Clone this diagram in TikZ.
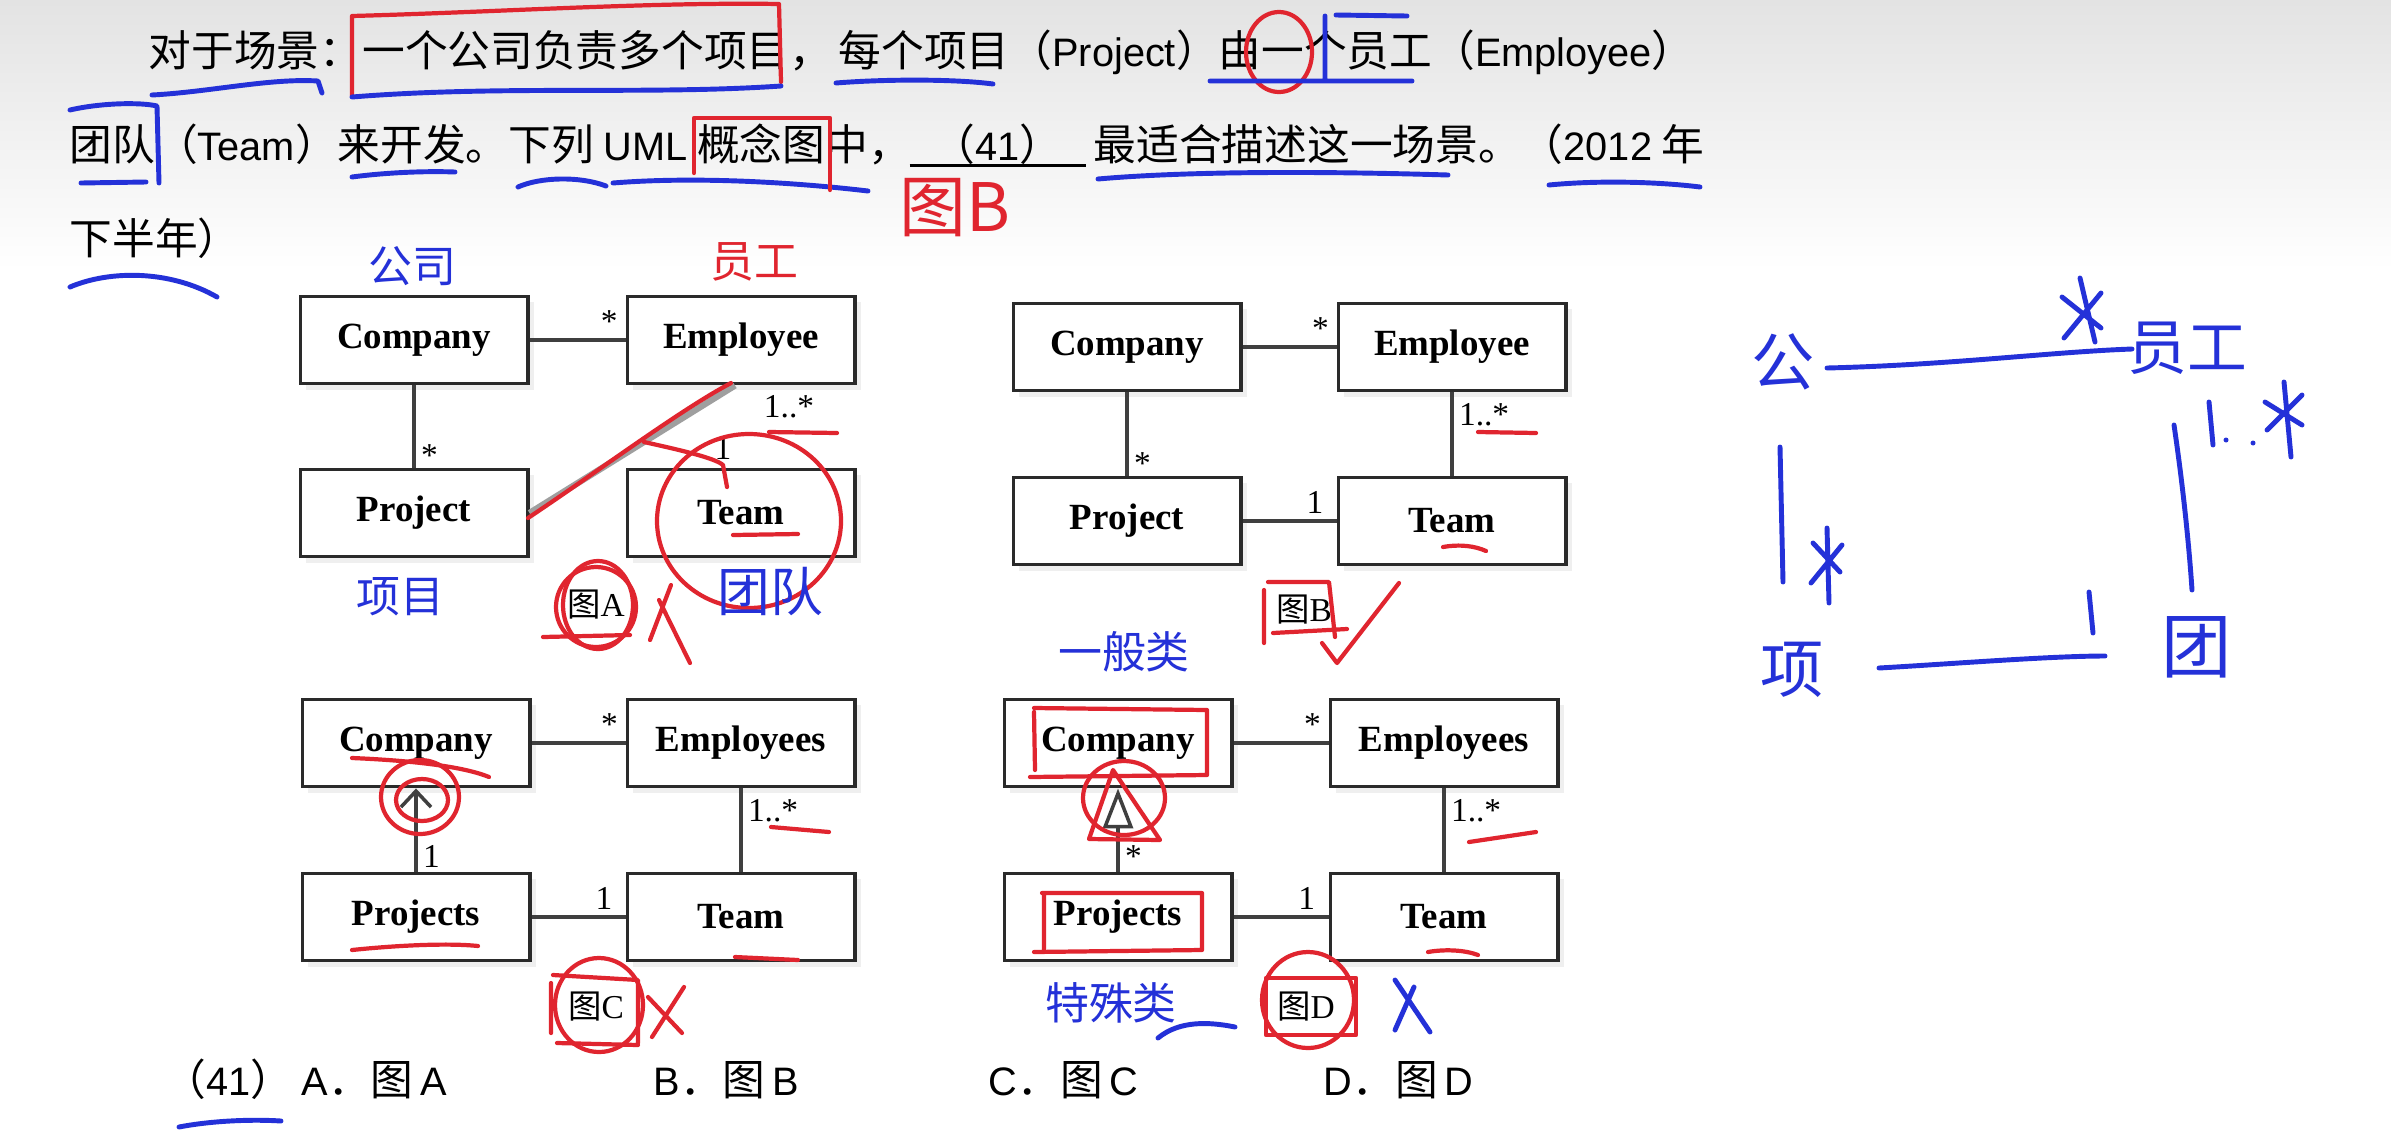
\documentclass[tikz,border=0pt]{standalone}
\usepackage{fontspec}
\setmainfont{Liberation Serif}
\newfontfamily\cjk{Noto Sans CJK SC}
\newfontfamily\latfont{Liberation Sans}[Scale=0.93]
\usepackage{tikz}
\usetikzlibrary{arrows.meta,positioning,calc,shadows}
\definecolor{penblue}{HTML}{2431D8}
\definecolor{penred}{HTML}{E0252F}
\definecolor{boxink}{HTML}{2A2A2A}
\newcommand{\la}[1]{{\latfont #1}}
\tikzset{
  cls/.style={draw=boxink, line width=1.1pt, fill=white, minimum width=2.27cm, minimum height=0.87cm, inner sep=0pt, font=\fontsize{10.5}{12}\selectfont\bfseries, drop shadow={opacity=0.12, shadow xshift=0.6mm, shadow yshift=-0.6mm}},
  assoc/.style={draw=boxink!90, line width=1pt},
  mult/.style={font=\fontsize{9.5}{11}\selectfont, inner sep=1.5pt},
  q/.style={font=\cjk\fontsize{12.15}{14}\selectfont, anchor=base west, inner sep=0pt},
  figlbl/.style={font=\fontsize{9.5}{11}\selectfont, inner sep=1pt},
  bp/.style={draw=penblue, line width=1.4pt, line cap=round, line join=round},
  rp/.style={draw=penred, line width=1.2pt, line cap=round, line join=round},
  bw/.style={text=penblue, font=\cjk\fontsize{12.5}{14}\selectfont, inner sep=0pt},
  rw/.style={text=penred, font=\cjk\fontsize{12.5}{14}\selectfont, inner sep=0pt},
}
\begin{document}
\begin{tikzpicture}[x=0.01cm, y=-0.01cm]
  \useasboundingbox (0,0) rectangle (2391,1133);
  \fill[white] (0,0) rectangle (2391,1133);
  \shade[top color=black!11, bottom color=white] (0,0) rectangle (2391,270);

  \node[q] (l1a) at (148,66) {对于场景：一个公司负责多个项目，};
  \node[q] (l1b) at (838,66) {每个项目（\la{Project}）由一个员工（\la{Employee}）};
  \node[q] (l2a) at (69,160) {团队（\la{Team}）来开发。下列 \la{UML} 概念图中，};
  \node[q] (l2b) at (909,160) {\rlap{\rule[-2pt]{1.76cm}{0.8pt}}\makebox[1.76cm]{（\la{41}）}};
  \node[q] (l2c) at (1093,160) {最适合描述这一场景。（\la{2012} 年};
  \node[q] (l3) at (69,254) {下半年）};

  \node[cls] (coA) at (414,340) {Company};
  \node[cls] (emA) at (741,340) {Employee};
  \node[cls] (prA) at (414,513) {Project};
  \node[cls] (teA) at (741,513) {Team};
  \draw[assoc] (coA) -- node[mult, pos=0.83, above] {*} (emA);
  \draw[assoc] (coA) -- node[mult, pos=0.85, right] {*} (prA);
  \draw[draw=gray!75, line width=1.8pt] (prA.east) -- ($(emA.south)+(-6,0)$);
  \node[mult] (m1A) at (789,407) {1..*};
  \node[mult] (m2A) at (723,448) {1};
  \node[figlbl] (fA) at (596,605) {{\cjk 图}A};

  \node[cls] (coB) at (1127,347) {Company};
  \node[cls] (emB) at (1452,347) {Employee};
  \node[cls] (prB) at (1127,521) {Project};
  \node[cls] (teB) at (1452,521) {Team};
  \draw[assoc] (coB) -- node[mult, pos=0.83, above] {*} (emB);
  \draw[assoc] (coB) -- node[mult, pos=0.85, right] {*} (prB);
  \draw[assoc] (emB) -- node[mult, pos=0.27, right] {1..*} (teB);
  \draw[assoc] (prB) -- node[mult, pos=0.77, above] {1} (teB);
  \node[figlbl] (fB) at (1304,610) {{\cjk 图}B};

  \node[cls] (coC) at (416,743) {Company};
  \node[cls] (emC) at (741,743) {Employees};
  \node[cls] (prC) at (416,917) {Projects};
  \node[cls] (teC) at (741,917) {Team};
  \draw[assoc] (coC) -- node[mult, pos=0.83, above] {*} (emC);
  \draw[assoc, -{Straight Barb[length=1.6mm, width=3mm]}] (prC) -- node[mult, pos=0.18, right] {1} (coC);
  \draw[assoc] (emC) -- node[mult, pos=0.27, right] {1..*} (teC);
  \draw[assoc] (prC) -- node[mult, pos=0.77, above] {1} (teC);
  \node[figlbl] (fC) at (596,1007) {{\cjk 图}C};

  \node[cls] (coD) at (1118,743) {Company};
  \node[cls] (emD) at (1444,743) {Employees};
  \node[cls] (prD) at (1118,917) {Projects};
  \node[cls] (teD) at (1444,917) {Team};
  \draw[assoc] (coD) -- node[mult, pos=0.83, above] {*} (emD);
  \draw[assoc, -{Triangle[open, fill=white, length=4mm, width=3mm]}] (prD) -- node[mult, pos=0.18, right] {*} (coD);
  \draw[assoc] (emD) -- node[mult, pos=0.27, right] {1..*} (teD);
  \draw[assoc] (prD) -- node[mult, pos=0.77, above] {1} (teD);
  \node[figlbl] (fD) at (1306,1007) {{\cjk 图}D};

  \node[q] (ans) at (163,1095) {（\la{41}）};
  \node[q] (opA) at (301,1095) {\la{A}．图\la{\,A}};
  \node[q] (opB) at (653,1095) {\la{B}．图\la{\,B}};
  \node[q] (opC) at (988,1095) {\la{C}．图\la{\,C}};
  \node[q] (opD) at (1323,1095) {\la{D}．图\la{\,D}};

  \draw[bp] (152,95) .. controls (210,92) and (270,78) .. (318,81) -- (322,93);
  \draw[rp] (352,96) -- (352,16) .. controls (500,12) and (650,2) .. (779,4) -- (781,82);
  \draw[bp] (352,97) .. controls (500,85) and (650,95) .. (781,86);
  \draw[bp] (836,83) .. controls (886,79) and (956,79) .. (993,84);
  \draw[rp] (1279,52) ellipse [x radius=33, y radius=40];
  \draw[bp] (1210,81) -- (1412,81) (1325,16) -- (1325,80) (1336,15) -- (1407,16);
  \draw[bp] (70,110) .. controls (100,103) and (140,102) .. (157,106) -- (159,183) (81,183) -- (146,182);
  \draw[bp] (352,177) .. controls (390,172) and (430,171) .. (455,172);
  \draw[bp] (518,187) .. controls (540,177) and (580,176) .. (606,186);
  \draw[bp] (613,183) .. controls (700,176) and (800,183) .. (868,191);
  \draw[rp] (694,173) -- (694,118) -- (830,118) -- (830,190);
  \draw[bp] (1098,179) .. controls (1200,170) and (1350,172) .. (1448,175);
  \draw[bp] (1549,185) .. controls (1600,180) and (1660,182) .. (1700,187);
  \draw[bp] (70,287) .. controls (110,270) and (170,270) .. (217,297);
  \node[rw, font=\cjk\fontsize{19}{21}\selectfont] (hwB) at (955,208) {图B};

  \node[bw] (hwCo) at (412,266) {公司};
  \node[rw] (hwEm) at (754,262) {员工};
  \draw[rp] (528,518) .. controls (600,470) and (680,410) .. (731,383);
  \draw[rp] (644,442) .. controls (680,450) and (715,458) .. (723,465) -- (727,487);
  \draw[rp] (769,432) -- (837,433);
  \draw[rp] (749,521) ellipse [x radius=92, y radius=87];
  \draw[rp] (733,535) -- (798,534);
  \node[bw] (hwPr) at (400,597) {项目};
  \draw[rp] (596,607) ellipse [x radius=40, y radius=40];
  \draw[rp] (598,605) ellipse [x radius=35, y radius=44];
  \draw[rp] (543,637) -- (630,635);
  \draw[rp] (650,640) -- (671,585) (659,600) -- (690,663);
  \node[bw, font=\cjk\fontsize{15}{16}\selectfont] (hwTe) at (770,592) {团队};

  \draw[rp] (1478,432) -- (1536,433);
  \draw[rp] (1443,547) .. controls (1460,544) and (1475,546) .. (1486,551);
  \draw[rp] (1264,643) -- (1264,590) (1268,582) -- (1329,582) -- (1335,637) (1273,633) -- (1347,629);
  \draw[rp] (1322,643) -- (1337,663) -- (1399,583);
  \node[bw] (hwGen) at (1124,652) {一般类};

  \draw[rp] (352,758) .. controls (400,760) and (460,765) .. (489,777);
  \draw[rp] (420,797) ellipse [x radius=39, y radius=37];
  \draw[rp] (422,800) ellipse [x radius=26, y radius=21];
  \draw[rp] (771,827) -- (829,832);
  \draw[rp] (352,950) .. controls (400,945) and (450,943) .. (478,946);
  \draw[rp] (735,957) -- (798,960);
  \draw[rp] (599,1005) ellipse [x radius=44, y radius=47];
  \draw[rp] (551,1033) -- (551,983) (553,975) -- (638,980) -- (638,1043) (557,1043) -- (638,1045);
  \draw[rp] (652,1037) -- (684,987) (648,997) -- (682,1033);

  \draw[rp] (1034,708) -- (1207,710) -- (1207,775) -- (1030,777) (1034,712) -- (1035,770);
  \draw[rp] (1124,798) ellipse [x radius=41, y radius=37];
  \draw[rp] (1113,770) -- (1160,840) -- (1089,839) -- cycle;
  \draw[rp] (1469,842) -- (1536,832);
  \draw[rp] (1042,893) -- (1202,893) -- (1202,950) (1044,895) -- (1044,950) (1034,952) -- (1202,950);
  \draw[rp] (1428,952) .. controls (1445,949) and (1465,950) .. (1478,955);
  \draw[rp] (1308,1000) ellipse [x radius=46, y radius=48];
  \draw[rp] (1266,978) rectangle (1356,1035);
  \draw[bp] (1395,980) -- (1430,1032) (1414,987) -- (1395,1030);
  \node[bw] (hwSpec) at (1111,1003) {特殊类};
  \draw[bp] (1158,1038) .. controls (1180,1020) and (1210,1022) .. (1235,1027);

  \node[bw, font=\cjk\fontsize{18}{20}\selectfont] (skCo) at (1783,362) {公};
  \draw[bp] (1827,368) .. controls (1950,365) and (2050,352) .. (2132,349);
  \draw[bp] (2080,278) -- (2095,342) (2064,338) -- (2101,293) (2062,297) -- (2101,328);
  \node[bw, font=\cjk\fontsize{17}{19}\selectfont] (skEm) at (2187,348) {员工};
  \draw[bp] (2209,402) -- (2213,445);
  \fill[penblue] (2226,440) circle [radius=2.5] (2253,443) circle [radius=2.5];
  \draw[bp] (2284,382) -- (2291,457) (2267,430) -- (2302,395) (2265,402) -- (2302,425);
  \draw[bp] (2174,425) .. controls (2185,500) and (2190,560) .. (2192,590);
  \draw[bp] (1780,447) -- (1783,582);
  \draw[bp] (1827,528) -- (1829,603) (1811,583) -- (1842,545) (1813,543) -- (1840,572);
  \node[bw, font=\cjk\fontsize{18}{20}\selectfont] (skPr) at (1792,670) {项};
  \draw[bp] (2089,592) -- (2093,633);
  \draw[bp] (1879,668) .. controls (1950,664) and (2050,656) .. (2105,656);
  \node[bw, font=\cjk\fontsize{20}{22}\selectfont] (skTe) at (2197,647) {团};

  \draw[bp] (179,1127) .. controls (210,1121) and (250,1119) .. (281,1121);
\end{tikzpicture}
\end{document}
